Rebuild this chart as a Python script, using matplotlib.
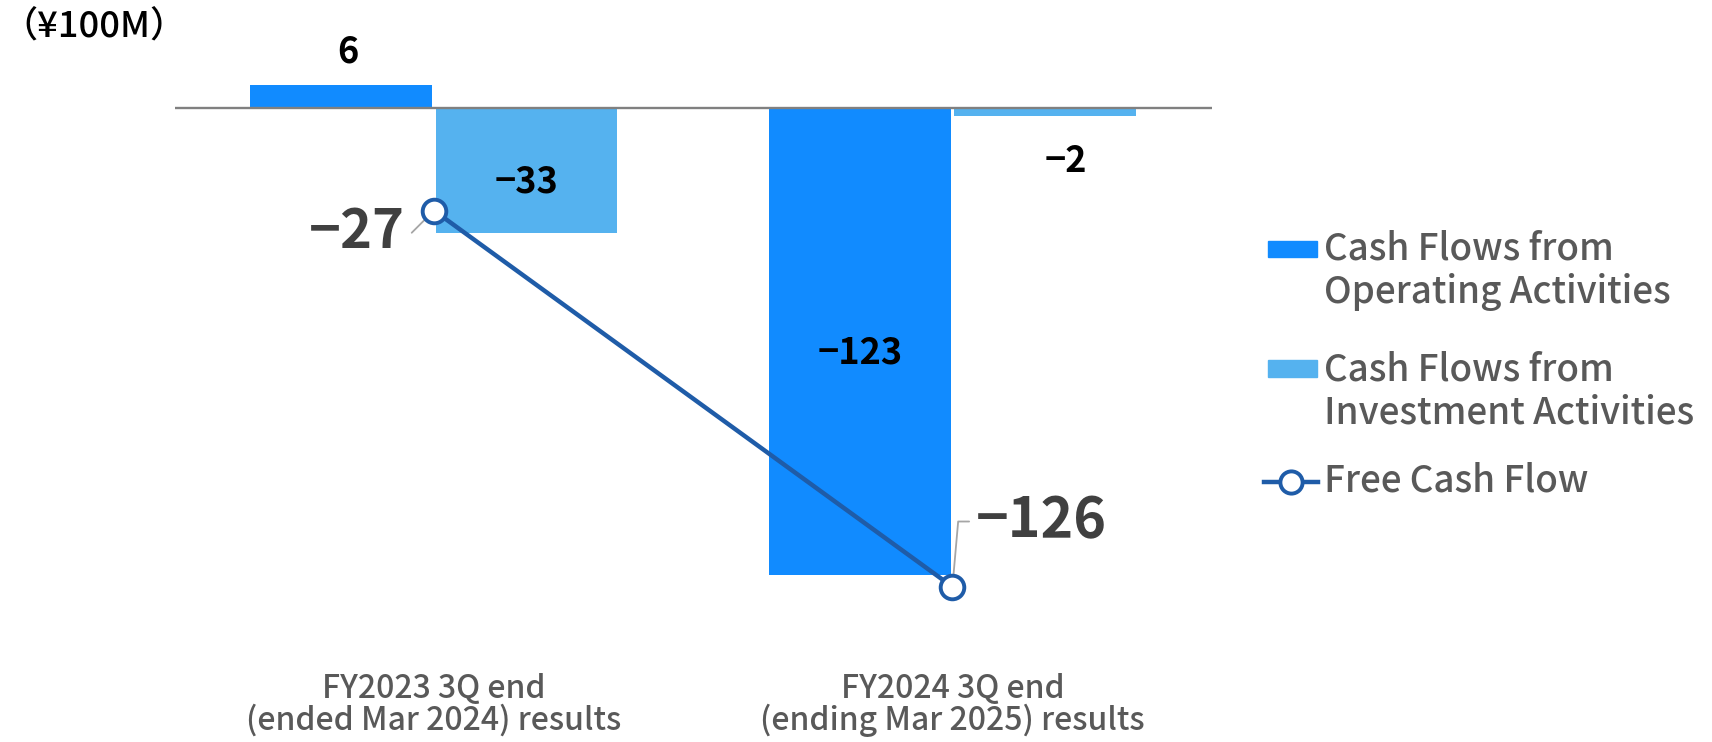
import matplotlib
matplotlib.use("Agg")
import matplotlib.pyplot as plt
from matplotlib.patches import Rectangle
from matplotlib.lines import Line2D
import numpy as np

plt.rcParams['font.family'] = ['Noto Sans CJK JP', 'DejaVu Sans']

categories = ["FY2023 3Q end\n(ended Mar 2024) results",
              "FY2024 3Q end\n(ending Mar 2025) results"]
operating = [6, -123]
investment = [-33, -2]
free_cf = [-27, -126]
unit_label = "（¥100M）"
legend_labels = ["Cash Flows from\nOperating Activities",
                 "Cash Flows from\nInvestment Activities",
                 "Free Cash Flow"]

c_op = "#118bff"
c_inv = "#55b2ef"
c_fcf = "#1f5ca8"
c_text = "#595959"

W, H = 1712, 742
fig = plt.figure(figsize=(W / 100, H / 100), dpi=100)
ax = fig.add_axes([174.7 / W, (H - 640) / H, 1037 / W, 610 / H])


def fx(px):
    return px / W


def fy(py):
    return 1 - py / H


x = np.arange(len(categories))
bw = 0.351
off = bw / 2 + 0.003
ax.bar(x - off, operating, bw, color=c_op, zorder=2)
ax.bar(x + off, investment, bw, color=c_inv, zorder=2)
ax.axhline(0, color="#808080", lw=1.7, zorder=3)
ax.plot(x, free_cf, color=c_fcf, lw=3.2, marker="o", ms=17, mfc="white",
        mec=c_fcf, mew=2.8, zorder=5)

ax.set_xlim(-0.5, 1.5)
ax.set_ylim(-140.0, 20.5)
for s in ax.spines.values():
    s.set_visible(False)
ax.set_yticks([])
ax.set_xticks(x)
ax.set_xticklabels(categories, fontsize=23, color=c_text, linespacing=0.95,
                   fontweight="medium")
ax.tick_params(axis="x", length=0, pad=24)


def fmt(v):
    return f"{v}" if v >= 0 else f"\u2212{abs(v)}"


lab_fs = 26
for xi, v in zip(x, operating):
    xc = xi - off
    if v >= 0:
        ax.annotate(fmt(v), (xc, v), xytext=(5, 24), textcoords="offset points",
                    ha="center", va="center", fontsize=lab_fs, fontweight="bold", color="black")
    else:
        ax.text(xc, v / 2 - 3, fmt(v), ha="center", va="center",
                fontsize=lab_fs, fontweight="bold", color="black")
for xi, v in zip(x, investment):
    xc = xi + off
    if v < -10:
        ax.text(xc, v / 2 - 3, fmt(v), ha="center", va="center",
                fontsize=lab_fs, fontweight="bold", color="black")
    else:
        ax.annotate(fmt(v), (xc, v), xytext=(15, -33), textcoords="offset points",
                    ha="center", va="center", fontsize=lab_fs, fontweight="bold", color="black")

ax.annotate(fmt(free_cf[0]), (x[0], free_cf[0]), xytext=(-21, -16),
            textcoords="offset points", ha="right", va="center", fontsize=39,
            fontweight="bold", color="#404040",
            arrowprops=dict(arrowstyle="-", color="#a6a6a6", lw=1.3,
                            shrinkA=3, shrinkB=7,
                            connectionstyle="angle,angleA=0,angleB=45,rad=0"))
ax.annotate(fmt(free_cf[1]), (x[1], free_cf[1]), xytext=(17, 47),
            textcoords="offset points", ha="left", va="center", fontsize=40,
            fontweight="bold", color="#404040",
            arrowprops=dict(arrowstyle="-", color="#a6a6a6", lw=1.3,
                            shrinkA=3, shrinkB=8,
                            connectionstyle="angle,angleA=0,angleB=85,rad=0"))

fig.text(fx(1), fy(27), unit_label, ha="left", va="center", fontsize=26,
         fontweight="medium", color="black")

# legend (drawn in figure pixel positions)
leg_fs = 26.5
fig.add_artist(Rectangle((fx(1268), fy(257)), 49 / W, 16 / H, color=c_op,
                         transform=fig.transFigure))
fig.add_artist(Rectangle((fx(1268), fy(377)), 49 / W, 17 / H, color=c_inv,
                         transform=fig.transFigure))
fig.add_artist(Line2D([fx(1264), fx(1318)], [fy(482), fy(482)], color=c_fcf,
                      lw=3.2, transform=fig.transFigure))
fig.add_artist(Line2D([fx(1291)], [fy(482)], color=c_fcf, marker="o", ms=16,
                      mfc="white", mec=c_fcf, mew=2.8, transform=fig.transFigure))
text_rows = [(legend_labels[0], 249), (legend_labels[1], 369), (legend_labels[2], 481)]
for lab, yc in text_rows:
    lines = lab.split("\n")
    for i, ln in enumerate(lines):
        fig.text(fx(1324), fy(yc + i * 43), ln, ha="left", va="center",
                 fontsize=leg_fs, fontweight="medium", color=c_text)

fig.savefig("out.png", dpi=100)
